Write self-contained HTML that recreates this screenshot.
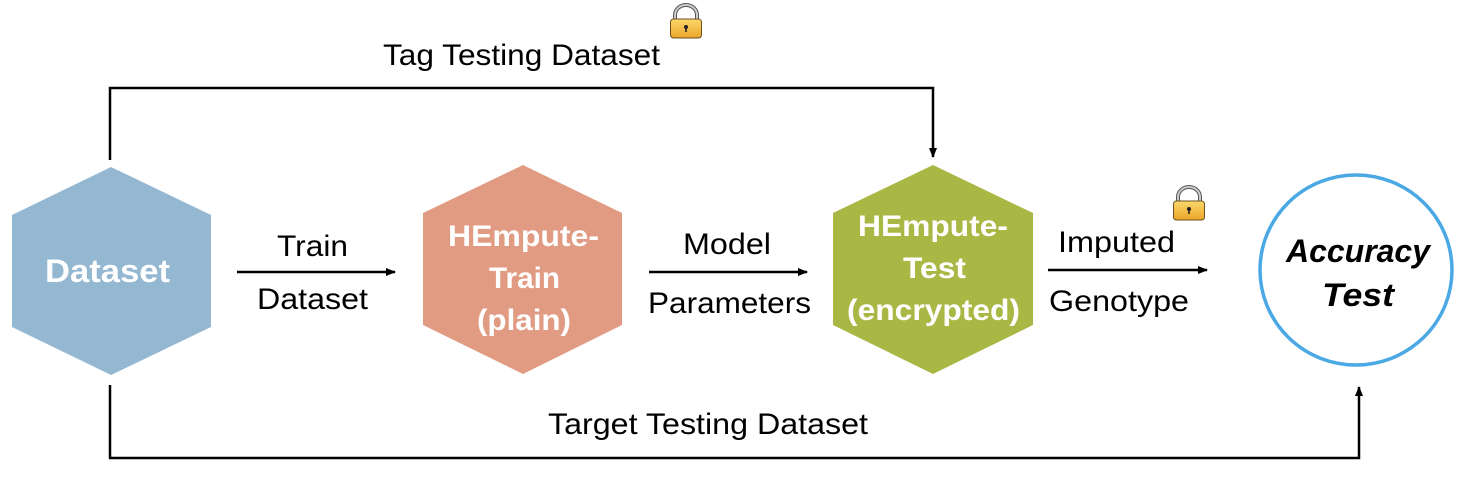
<!DOCTYPE html>
<html><head><meta charset="utf-8"><style>
html,body{margin:0;padding:0;background:#fff;}
svg{display:block;}
text{font-family:"Liberation Sans",sans-serif;}
</style></head><body>
<svg width="1468" height="484" viewBox="0 0 1468 484" xmlns="http://www.w3.org/2000/svg">
<defs>
<marker id="ah" markerWidth="10" markerHeight="8" refX="9" refY="4" orient="auto" markerUnits="userSpaceOnUse">
<path d="M0,0 L10,4 L0,8 Z" fill="#000"/>
</marker>
<linearGradient id="lg" x1="0" y1="0" x2="0" y2="1">
<stop offset="0" stop-color="#fbd86a"/><stop offset="1" stop-color="#eba52a"/>
</linearGradient>
<g id="lock">
<path d="M5,15 V10 A11,10 0 0 1 27,10 V15" fill="none" stroke="#555" stroke-width="4"/>
<path d="M5,15 V10 A11,10 0 0 1 27,10 V15" fill="none" stroke="#ccc" stroke-width="2"/>
<rect x="0.5" y="14" width="31" height="19" rx="3" fill="url(#lg)" stroke="#6b5220" stroke-width="1"/>
<circle cx="16" cy="22" r="2" fill="#222"/><rect x="15.2" y="22" width="1.6" height="5" fill="#222"/>
</g>
</defs>

<polyline points="110,160 110,88 933,88 933,157" fill="none" stroke="#000" stroke-width="2.5" marker-end="url(#ah)"/>
<polyline points="110,385 110,458 1359,458 1359,387" fill="none" stroke="#000" stroke-width="2.5" marker-end="url(#ah)"/>
<line x1="237" y1="272" x2="395" y2="272" stroke="#000" stroke-width="2.5" marker-end="url(#ah)"/>
<line x1="649" y1="272" x2="807" y2="272" stroke="#000" stroke-width="2.5" marker-end="url(#ah)"/>
<line x1="1048" y1="270" x2="1207" y2="270" stroke="#000" stroke-width="2.5" marker-end="url(#ah)"/>

<polygon points="111,167 211,215 211,327 111,375 12,327 12,215" fill="#95b8d2"/>
<polygon points="523,165 622,213 622,325 523,374 423,325 423,213" fill="#e19b82"/>
<polygon points="933,165 1033,213 1033,325 933,374 833,325 833,213" fill="#a9b744"/>
<ellipse cx="1356" cy="270" rx="96" ry="95" fill="#fff" stroke="#4aa8e4" stroke-width="3.5"/>

<text x="45" y="282" font-size="32" font-weight="bold" fill="#fff" textLength="125" lengthAdjust="spacingAndGlyphs">Dataset</text>
<g font-size="30" font-weight="bold" fill="#fff">
<text x="448" y="246" textLength="151" lengthAdjust="spacingAndGlyphs">HEmpute-</text>
<text x="489" y="288" textLength="71" lengthAdjust="spacingAndGlyphs">Train</text>
<text x="477" y="330" textLength="94" lengthAdjust="spacingAndGlyphs">(plain)</text>
<text x="858" y="236" textLength="150" lengthAdjust="spacingAndGlyphs">HEmpute-</text>
<text x="903" y="278" textLength="63" lengthAdjust="spacingAndGlyphs">Test</text>
<text x="847" y="320" textLength="173" lengthAdjust="spacingAndGlyphs">(encrypted)</text>
</g>
<g font-size="32" font-weight="bold" font-style="italic" fill="#000">
<text x="1286" y="262" textLength="144" lengthAdjust="spacingAndGlyphs">Accuracy</text>
<text x="1322" y="306" textLength="72" lengthAdjust="spacingAndGlyphs">Test</text>
</g>

<g font-size="30" fill="#000">
<text x="383" y="65" textLength="277" lengthAdjust="spacingAndGlyphs">Tag Testing Dataset</text>
<text x="277" y="256" textLength="71" lengthAdjust="spacingAndGlyphs">Train</text>
<text x="257" y="309" textLength="111" lengthAdjust="spacingAndGlyphs">Dataset</text>
<text x="683" y="254" textLength="88" lengthAdjust="spacingAndGlyphs">Model</text>
<text x="648" y="313" textLength="163" lengthAdjust="spacingAndGlyphs">Parameters</text>
<text x="1058" y="252" textLength="117" lengthAdjust="spacingAndGlyphs">Imputed</text>
<text x="1049" y="311" textLength="140" lengthAdjust="spacingAndGlyphs">Genotype</text>
<text x="548" y="434" textLength="320" lengthAdjust="spacingAndGlyphs">Target Testing Dataset</text>
</g>

<use href="#lock" x="670" y="5"/>
<use href="#lock" x="1173" y="187"/>
</svg>
</body></html>
